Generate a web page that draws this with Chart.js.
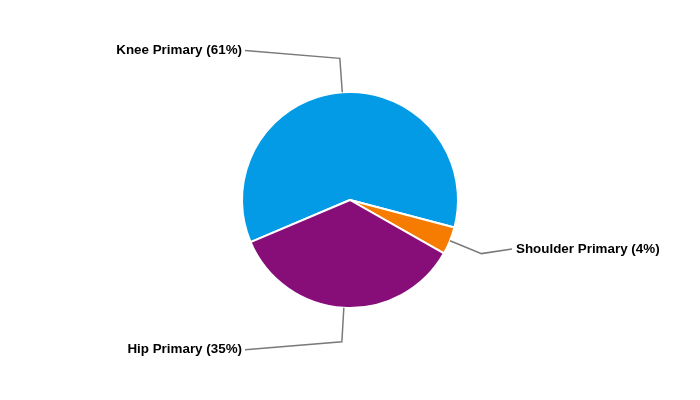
<!DOCTYPE html>
<html>
<head>
<meta charset="utf-8">
<script src="https://cdn.jsdelivr.net/npm/chart.js@4"></script>
<style>
  html, body { margin: 0; padding: 0; background: #fff; }
  #wrap { width: 700px; height: 400px; }
</style>
</head>
<body>
<div id="wrap"><canvas id="pieChart"></canvas></div>
<script>
const categories = ['Knee Primary', 'Shoulder Primary', 'Hip Primary'];
const shares = [60.5, 4.1, 35.4];
const sliceColors = ['#039be5', '#f57c00', '#870e79'];

// Outside labels with elbow connectors
const outsideLabels = {
  id: 'outsideLabels',
  afterDatasetsDraw(chart) {
    const ctx = chart.ctx;
    const meta = chart.getDatasetMeta(0);
    const total = shares.reduce((a, b) => a + b, 0);
    ctx.save();
    ctx.font = 'bold 13.4px "Liberation Sans", Arial, sans-serif';
    ctx.fillStyle = '#000';
    ctx.strokeStyle = '#7a7a7a';
    ctx.lineWidth = 1.5;
    ctx.textBaseline = 'middle';
    meta.data.forEach((arc, i) => {
      const p = arc.getProps(['x', 'y', 'startAngle', 'endAngle', 'outerRadius'], true);
      const mid = (p.startAngle + p.endAngle) / 2;
      const c = Math.cos(mid), s = Math.sin(mid);
      const r = p.outerRadius;
      const x0 = p.x + r * c, y0 = p.y + r * s;
      const x1 = p.x + (r + 34) * c, y1 = p.y + (r + 34) * s;
      const left = c < 0;
      const x2 = left ? p.x - r + 3 : p.x + r + 54;
      const y2 = y1 + 8 * Math.pow(s, 3) - 8 * (1 - Math.abs(s));
      ctx.beginPath();
      ctx.moveTo(x0, y0);
      ctx.lineTo(x1, y1);
      ctx.lineTo(x2, y2);
      ctx.stroke();
      const pct = Math.round(shares[i] / total * 100);
      const text = categories[i] + ' (' + pct + '%)';
      ctx.textAlign = left ? 'right' : 'left';
      ctx.fillText(text, left ? x2 - 3 : x2 + 4, y2);
    });
    ctx.restore();
  }
};

new Chart(document.getElementById('pieChart'), {
  type: 'pie',
  data: {
    labels: categories,
    datasets: [{
      data: shares,
      backgroundColor: sliceColors,
      borderColor: '#fff',
      borderWidth: 2
    }]
  },
  options: {
    responsive: true,
    maintainAspectRatio: false,
    animation: false,
    rotation: 247,
    layout: { padding: { top: 91, bottom: 91 } },
    plugins: { legend: { display: false }, tooltip: { enabled: false } }
  },
  plugins: [outsideLabels]
});
</script>
</body>
</html>
